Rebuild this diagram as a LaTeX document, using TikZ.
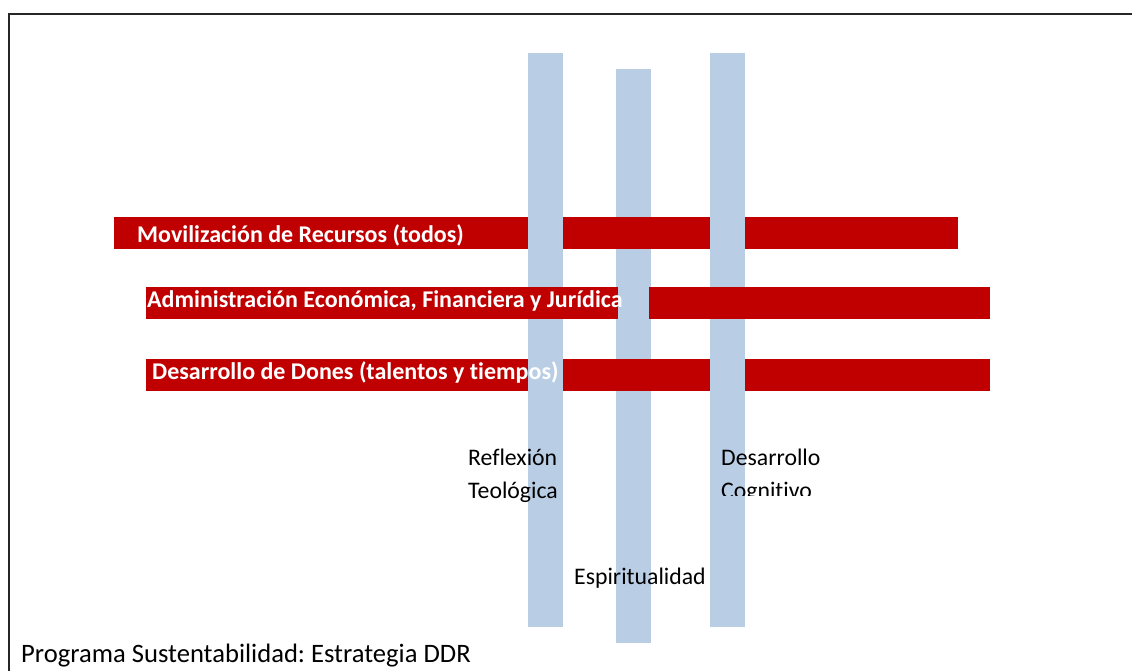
\documentclass[tikz,border=0pt]{standalone}
\usepackage{fontspec}
\setmainfont[Ligatures=NoCommon]{Carlito}
\definecolor{barred}{RGB}{192,0,0}
\definecolor{barblue}{RGB}{185,205,229}
\frenchspacing
\begin{document}
\begin{tikzpicture}[x=1pt,y=-1pt,
  redbar/.style={fill=barred,draw=none},
  bluebar/.style={fill=barblue,draw=none},
  bartext/.style={anchor=base west,inner sep=0pt,text=white,font=\fontsize{24}{29}\selectfont\bfseries},
  label/.style={anchor=base west,inner sep=0pt,text=black,font=\fontsize{23.75}{28}\selectfont},
  frame/.style={draw=black!85,line width=1.6pt}]
\useasboundingbox (0,0) rectangle (1132,671);
\fill[white] (0,0) rectangle (1132,671);
% frame
\draw[frame] (9,671) -- (9,14) -- (1132,14);
% middle blue bar (under rows 1 and 3)
\fill[bluebar] (616,69) rectangle (651,643);
% rows 1 and 3
\fill[redbar] (114,217) rectangle (958,249);
\fill[redbar] (146,359) rectangle (990,391);
% outer blue bars
\fill[bluebar] (528,53) rectangle (563,627);
\fill[bluebar] (710,53) rectangle (745,627);
% row 2 (over outer blue bars, with a gap for the middle one)
\fill[redbar] (146,287) rectangle (618,319);
\fill[redbar] (649,287) rectangle (990,319);
% texts
\node[bartext] (t1) at (137,242) {Movilización de Recursos (todos)};
\node[bartext] (t2) at (147,307) {Administración Económica, Financiera y Jurídica};
\node[bartext] (t3) at (152,379) {Desarrollo de Dones (talentos y tiempos)};
\node[label] (rt1) at (468,465) {Reflexión};
\node[label] (rt2) at (468,498) {Teológica};
\node[label] (dc1) at (721,465) {Desarrollo};
\begin{scope}
\clip (700,470) rectangle (900,495.5);
\node[label] (dc2) at (721,498) {Cognitivo};
\end{scope}
\node[label] (esp) at (574,584) {Espiritualidad};
\node[label,font=\fontsize{26.6}{32}\selectfont] (prog) at (21,662) {Programa Sustentabilidad: Estrategia DDR};
\end{tikzpicture}
\end{document}
